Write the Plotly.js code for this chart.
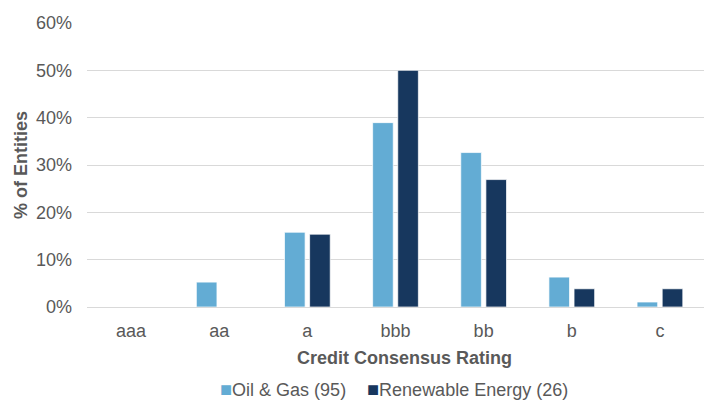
<!DOCTYPE html>
<html>
<head>
<meta charset="utf-8">
<script src="https://cdn.plot.ly/plotly-3.0.1.min.js"></script>
<style>html,body{margin:0;padding:0;background:#fff;}#chart{width:704px;height:402px;}</style>
</head>
<body>
<div id="chart"></div>
<script>
const categories = ["aaa", "aa", "a", "bbb", "bb", "b", "c"];
const oilGasName = "Oil & Gas (95)";
const oilGasValues = [0, 5.26, 15.79, 38.95, 32.63, 6.32, 1.05];
const renewName = "Renewable Energy (26)";
const renewValues = [0, 0, 15.38, 50.0, 26.92, 3.85, 3.85];
const yTicks = [0, 10, 20, 30, 40, 50, 60];

const lightColor = "#63acd4";
const darkColor = "#17375e";
const font = "Liberation Sans, Arial, sans-serif";
const textColor = "#595959";

const traces = [
  {type: "bar", name: oilGasName, x: categories, y: oilGasValues,
   marker: {color: lightColor, line: {color: "rgba(255,255,255,0.7)", width: 1}}, showlegend: false},
  {type: "bar", name: renewName, x: categories, y: renewValues,
   marker: {color: darkColor, line: {color: "rgba(255,255,255,0.7)", width: 1}}, showlegend: false}
];

const layout = {
  width: 704, height: 402,
  margin: {l: 87, r: 0, t: 23, b: 95},
  paper_bgcolor: "#fff", plot_bgcolor: "#fff",
  barmode: "group", bargap: 0.43, bargroupgap: 0.18,
  font: {family: font, size: 18, color: textColor},
  xaxis: {
    type: "category", showgrid: false, ticks: "", showline: true,
    linecolor: "#d9d9d9", linewidth: 1, ticklabelstandoff: 7,
    tickfont: {size: 18, color: textColor}, zeroline: false
  },
  yaxis: {
    range: [0, 60], tickvals: yTicks, ticktext: yTicks.map(v => v + "%"),
    showgrid: true, gridcolor: "#d9d9d9", gridwidth: 1, zeroline: false,
    ticks: "", ticklabelstandoff: 14, tickfont: {size: 18, color: textColor},
    title: {text: "<b>% of Entities</b>", font: {size: 18, color: textColor}, standoff: 3}
  },
  annotations: [
    {xref: "paper", yref: "paper", x: 0.515, y: -0.18, xanchor: "center", yanchor: "middle",
     text: "<b>Credit Consensus Rating</b>", showarrow: false, font: {size: 18, color: textColor}},
    {xref: "paper", yref: "paper", x: 0.423, y: -0.289, xanchor: "right", yanchor: "middle",
     text: '<span style="color:' + lightColor + ';font-size:20px">■</span>' + oilGasName.replace("&", "&amp;"),
     showarrow: false, font: {size: 18, color: textColor}},
    {xref: "paper", yref: "paper", x: 0.4506, y: -0.289, xanchor: "left", yanchor: "middle",
     text: '<span style="color:' + darkColor + ';font-size:20px">■</span>' + renewName,
     showarrow: false, font: {size: 18, color: textColor}}
  ]
};

Plotly.newPlot("chart", traces, layout, {displayModeBar: false, staticPlot: true});
</script>
</body>
</html>
